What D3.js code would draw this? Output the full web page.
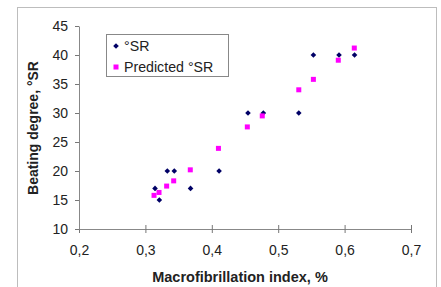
<!DOCTYPE html>
<html>
<head>
<meta charset="utf-8">
<script src="https://cdn.jsdelivr.net/npm/d3@7"></script>
<style>
  body { margin: 0; background: #fff; }
  text { font-family: "Liberation Sans", Arial, sans-serif; fill: #222; }
</style>
</head>
<body>
<div id="chart"></div>
<script>
// macrofibrillation index (%) for each sample
const mfIndex = [0.3145, 0.321, 0.333, 0.3435, 0.368, 0.411, 0.4545, 0.4776, 0.531, 0.553, 0.5916, 0.615];
const srValues = [17, 15, 20, 20, 17, 20, 30, 30, 30, 40, 40, 40];
const predIndex = [0.313, 0.3205, 0.332, 0.3426, 0.3676, 0.410, 0.4535, 0.476, 0.531, 0.553, 0.5905, 0.6146];
const predValues = [15.8, 16.3, 17.4, 18.3, 20.2, 23.9, 27.6, 29.5, 34.0, 35.8, 39.1, 41.2];
const xTicks = [0.2, 0.3, 0.4, 0.5, 0.6, 0.7];
const yTicks = [10, 15, 20, 25, 30, 35, 40, 45];
const legendLabels = ["°SR", "Predicted °SR"];

const W = 441, H = 287;
const margin = {top: 26, right: 30, bottom: 58, left: 79};
const width = 411 - margin.left;
const height = 229 - margin.top;

const svg = d3.select("#chart").append("svg")
    .attr("width", W)
    .attr("height", H);

// outer frame
svg.append("rect")
    .attr("x", 17.5).attr("y", 7.5)
    .attr("width", 419).attr("height", 300)
    .attr("fill", "none")
    .attr("stroke", "#bdbdbd");

const g = svg.append("g")
    .attr("transform", `translate(${margin.left}, ${margin.top})`);

const x = d3.scaleLinear().domain([0.2, 0.7]).range([0, width]);
const y = d3.scaleLinear().domain([10, 45]).range([height, 0]);

const fmt = d => d3.format(".1f")(d).replace(".", ",");

// x axis
const xg = g.append("g")
    .attr("transform", `translate(0, ${height})`)
    .call(d3.axisBottom(x).tickValues(xTicks).tickFormat(fmt).tickSizeInner(4).tickSizeOuter(0).tickPadding(12));
xg.selectAll(".tick line").attr("y1", -4);
xg.select(".domain").attr("stroke", "#888");
xg.selectAll(".tick line").attr("stroke", "#777");
xg.selectAll("text").attr("font-size", 14).attr("fill", "#333");

// y axis
const yg = g.append("g")
    .call(d3.axisLeft(y).tickValues(yTicks).tickSizeInner(4).tickSizeOuter(0).tickPadding(7));
yg.select(".domain").attr("stroke", "#888");
yg.selectAll(".tick line").attr("stroke", "#777");
yg.selectAll("text").attr("font-size", 14).attr("fill", "#333");

// axis titles
svg.append("text")
    .attr("x", 240)
    .attr("y", 282)
    .attr("text-anchor", "middle")
    .attr("font-size", 14.5)
    .attr("font-weight", "bold")
    .text("Macrofibrillation index, %");

svg.append("text")
    .attr("transform", `translate(38, 128) rotate(-90)`)
    .attr("text-anchor", "middle")
    .attr("font-size", 14)
    .attr("font-weight", "bold")
    .text("Beating degree, °SR");

// small diamond = square rotated 45°
const diamond = "M0,-2.8L2.8,0L0,2.8L-2.8,0Z";

// measured points
g.selectAll(".sr")
    .data(mfIndex.map((v, i) => [v, srValues[i]]))
    .join("path")
    .attr("class", "sr")
    .attr("d", diamond)
    .attr("transform", d => `translate(${x(d[0])}, ${y(d[1])})`)
    .attr("fill", "#000066");

// predicted points
g.selectAll(".pred")
    .data(predIndex.map((v, i) => [v, predValues[i]]))
    .join("rect")
    .attr("class", "pred")
    .attr("x", d => x(d[0]) - 2.5)
    .attr("y", d => y(d[1]) - 2.5)
    .attr("width", 5).attr("height", 5)
    .attr("fill", "#ff00ff");

// legend
const lg = svg.append("g").attr("transform", "translate(106, 34)");
lg.append("rect")
    .attr("x", 0.5).attr("y", 0.5)
    .attr("width", 122).attr("height", 42)
    .attr("fill", "#fff")
    .attr("stroke", "#888");
lg.append("path").attr("d", diamond).attr("transform", "translate(10, 12)").attr("fill", "#000066");
lg.append("rect").attr("x", 7.5).attr("y", 30.5).attr("width", 5).attr("height", 5).attr("fill", "#ff00ff");
lg.selectAll(".ltxt")
    .data(legendLabels)
    .join("text")
    .attr("class", "ltxt")
    .attr("x", 18)
    .attr("y", (d, i) => 17 + i * 21)
    .attr("font-size", 14.2)
    .text(d => d);
</script>
</body>
</html>
